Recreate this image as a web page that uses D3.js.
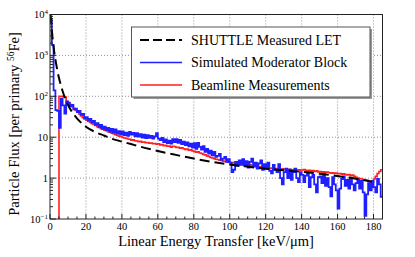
<!DOCTYPE html>
<html>
<head>
<meta charset="utf-8">
<script src="https://cdn.jsdelivr.net/npm/d3@7"></script>
<style>
body { margin: 0; background: #fff; }
text { font-family: "Liberation Serif", "Times New Roman", serif; }
</style>
</head>
<body>
<svg id="chart" width="415" height="257"></svg>
<script>
// SHUTTLE measured LET (dashed black), smooth curve
shuttleLET  = [0.3, 0.6, 1, 1.5, 2, 3, 4, 5, 6, 7, 8, 10, 12, 15, 20, 25, 30, 35, 40, 45, 50, 60, 70, 80, 90, 100, 110, 120, 130, 140, 150, 160, 170, 179];
shuttleFlux = [10000, 7000, 4300, 2500, 1600, 800, 450, 280, 190, 135, 100, 62, 43, 29, 18, 13.5, 11, 9, 7.8, 6.8, 5.9, 4.6, 3.7, 3.0, 2.5, 2.15, 1.9, 1.7, 1.55, 1.42, 1.28, 1.12, 0.97, 0.82];

// Simulated moderator block, 1 keV/um bins starting at 0
blueStart = 0;
blueFlux = [7500, 1800, 140, 46, 44, 17, 88, 60, 38, 75,
  70, 58, 62, 48, 50, 41, 44, 35, 37, 29,
  31, 26, 28, 23, 25, 20, 22, 17.5, 20, 16,
  18, 15, 17, 13.8, 16, 13, 15.5, 12.3, 14, 11.8,
  13.8, 11.2, 13, 10.8, 13.5, 11.5, 12.8, 10.5, 12.5, 10.3,
  11.8, 9.8, 11.5, 9.5, 11.2, 9.6, 10.8, 9.2, 10.5, 12.5,
  9.2, 8.5, 9.6, 7.6, 8.8, 7.2, 8.2, 7, 8.9, 7.6,
  9, 7.3, 8.6, 6.8, 7.8, 6.4, 7.5, 6, 7, 5.6,
  7.2, 5.2, 7.3, 5.8, 5.0, 6.0, 4.4, 5.2, 4.0, 4.7,
  3.6, 4.4, 3.3, 3.5, 3.9, 2.8, 3.0, 3.3, 2.5, 2.9,
  2.4, 1.4, 1.6, 2.5, 2.0, 2.7, 2.1, 2.9, 2.0, 2.6,
  1.8, 2.5, 3.0, 1.9, 2.4, 1.7, 2.3, 2.7, 1.6, 2.2,
  1.7, 2.4, 1.5, 1.3, 2.1, 1.6, 1.4, 2.2, 1.0, 0.7,
  1.4, 1.7, 1.0, 1.6, 0.9, 1.4, 1.7, 1.0, 0.8, 1.4,
  1.2, 0.8, 1.15, 1.3, 0.6, 1.05, 1.2, 0.7, 0.45, 1.05,
  1.1, 0.75, 1.25, 0.65, 1.0, 0.6, 0.36, 1.05, 0.7, 0.5,
  0.18, 0.55, 0.95, 1.1, 0.65, 0.9, 0.55, 1.0, 0.7, 0.5,
  0.75, 0.9, 0.55, 0.85, 0.45, 0.12, 0.4, 0.75, 0.5, 0.85,
  0.6, 0.45, 0.95, 0.7, 0.35];

// Beamline measurements, 1 keV/um bins starting at 5
redStart = 5;
redFlux = [100, 100, 98, 96, 74,
  69, 63, 56, 50, 45, 41, 37, 33, 30, 28,
  26, 24.5, 23, 21.5, 20.5, 19.5, 18, 17.5, 16.2, 15.8,
  14.8, 14.5, 13.6, 13.2, 12.5, 12.1, 11.5, 11.2, 10.6, 10.5,
  10, 9.6, 9.4, 9, 8.9, 8.5, 8.6, 8.2, 8.1, 7.8,
  7.9, 7.5, 7.6, 7.3, 7.4, 7.1, 7.2, 6.9, 7.0, 6.7,
  6.9, 6.5, 6.6, 6.2, 6.3, 6.0, 6.1, 5.7, 6.0, 5.9,
  5.6, 5.7, 5.4, 5.5, 5.2, 5.0, 5.1, 4.8, 4.9, 4.6,
  4.5, 4.3, 4.4, 4.1, 4.0, 3.8, 3.7, 3.5, 3.4, 3.2,
  3.1, 3.0, 2.9, 2.85, 2.75, 2.7, 2.6, 2.55, 2.5, 2.45,
  2.4, 2.35, 2.4, 2.3, 2.25, 2.3, 2.2, 2.15, 2.2, 2.1,
  2.05, 2.1, 2.0, 1.95, 2.0, 1.9, 1.85, 1.9, 1.8, 1.85,
  1.75, 1.8, 1.72, 1.75, 1.7, 1.72, 1.68, 1.7, 1.65, 1.68,
  1.62, 1.65, 1.6, 1.63, 1.58, 1.6, 1.62, 1.58, 1.6, 1.55,
  1.58, 1.62, 1.55, 1.5, 1.55, 1.48, 1.52, 1.45, 1.5, 1.42,
  1.45, 1.4, 1.42, 1.38, 1.4, 1.35, 1.32, 1.35, 1.3, 1.32,
  1.28, 1.3, 1.25, 1.28, 1.22, 1.2, 1.22, 1.15, 1.18, 1.1,
  1.05, 1.0, 0.98, 0.95, 0.92, 0.9, 0.88, 0.85, 0.75, 0.8,
  0.95, 1.1, 1.3, 1.45, 1.6];

xTicks = [0, 20, 40, 60, 80, 100, 120, 140, 160, 180];
yTicks = [0.1, 1, 10, 100, 1000, 10000];
yLabels = [["10", "\u22121"], ["1", ""], ["10", ""], ["10", "2"], ["10", "3"], ["10", "4"]];

legendItems = [
  {label: "SHUTTLE Measured LET", color: "#000", dash: "9,4", width: 2},
  {label: "Simulated Moderator Block", color: "#1f1fff", dash: null, width: 1.5},
  {label: "Beamline Measurements", color: "#ff1f1f", dash: null, width: 1.5}
];

svg = d3.select("#chart");
left = 50; right = 382.5; top_ = 14.5; bottom = 219;

x = d3.scaleLinear().domain([0, 185]).range([left, right]);
y = d3.scaleLog().domain([0.1, 10000]).range([bottom, top_]);

// grid
grid = svg.append("g").attr("stroke", "#777").attr("stroke-width", 0.8).attr("stroke-dasharray", "1,2");
grid.selectAll("line.gx").data(xTicks.filter(d => d > 0)).enter().append("line")
  .attr("x1", d => x(d)).attr("x2", d => x(d)).attr("y1", top_).attr("y2", bottom);
grid.selectAll("line.gy").data(yTicks.filter(d => d > 0.1 && d < 10000)).enter().append("line")
  .attr("x1", left).attr("x2", right).attr("y1", d => y(d)).attr("y2", d => y(d));

svg.append("clipPath").attr("id", "clip").append("rect")
  .attr("x", left).attr("y", top_).attr("width", right - left).attr("height", bottom - top_);
plot = svg.append("g").attr("clip-path", "url(#clip)");

function stepPoints(start, vals) {
  pts = vals.map((v, i) => [start + i, v]);
  pts.push([start + vals.length, vals[vals.length - 1]]);
  return pts;
}

stepLine = d3.line().x(d => x(d[0])).y(d => y(d[1])).curve(d3.curveStepAfter);

// red beamline with rising edge from bottom
redPts = [[redStart, 0.1]].concat(stepPoints(redStart, redFlux));
plot.append("path").attr("d", stepLine(redPts))
  .attr("fill", "none").attr("stroke", "#ff1f1f").attr("stroke-width", 1.6);

plot.append("path").attr("d", stepLine(stepPoints(blueStart, blueFlux)))
  .attr("fill", "none").attr("stroke", "#1f1fff").attr("stroke-width", 1.8);

plot.append("path")
  .attr("d", d3.line().x(d => x(d)).y((d, i) => y(shuttleFlux[i])).curve(d3.curveMonotoneX)(shuttleLET))
  .attr("fill", "none").attr("stroke", "#000").attr("stroke-width", 2).attr("stroke-dasharray", "10,5");

// frame
svg.append("rect").attr("x", left).attr("y", top_).attr("width", right - left).attr("height", bottom - top_)
  .attr("fill", "none").attr("stroke", "#222").attr("stroke-width", 1);

// x ticks (inside)
axisG = svg.append("g").attr("stroke", "#222").attr("stroke-width", 1);
axisG.selectAll("line.xt").data(d3.range(0, 186, 5)).enter().append("line")
  .attr("x1", d => x(d)).attr("x2", d => x(d))
  .attr("y1", bottom).attr("y2", d => bottom - (d % 20 === 0 ? 5 : 2.5));
// y ticks (inside)
yMinor = [];
[0.1, 1, 10, 100, 1000].forEach(dec => { for (k = 1; k < 10; k++) yMinor.push(dec * k); });
yMinor.push(10000);
axisG.selectAll("line.yt").data(yMinor).enter().append("line")
  .attr("x1", left).attr("x2", d => left + (yTicks.includes(d) ? 6 : 3))
  .attr("y1", d => y(d)).attr("y2", d => y(d));

svg.selectAll("text.xl").data(xTicks).enter().append("text")
  .attr("x", d => x(d)).attr("y", 230).attr("text-anchor", "middle").attr("font-size", 10.5)
  .text(d => d);

yl = svg.selectAll("text.yl").data(yTicks).enter().append("text")
  .attr("x", 48).attr("y", d => y(d) + 3.5).attr("text-anchor", "end").attr("font-size", 10.5);
yl.append("tspan").text((d, i) => yLabels[i][0]);
yl.append("tspan").attr("font-size", 7).attr("dy", -4).text((d, i) => yLabels[i][1]);

// axis titles
svg.append("text").attr("x", 216).attr("y", 246).attr("text-anchor", "middle").attr("font-size", 14.5)
  .text("Linear Energy Transfer [keV/\u03bcm]");
yt = svg.append("text").attr("transform", "translate(19,124) rotate(-90)").attr("text-anchor", "middle")
  .attr("font-size", 14.5);
yt.append("tspan").text("Particle Flux [per primary ");
yt.append("tspan").attr("font-size", 9.5).attr("dy", -5).text("56");
yt.append("tspan").attr("dy", 5).text("Fe]");

// legend
lg = svg.append("g");
lg.append("rect").attr("x", 133.5).attr("y", 29).attr("width", 238.5).attr("height", 70).attr("fill", "#999");
lg.append("rect").attr("x", 131.5).attr("y", 27).attr("width", 238.5).attr("height", 70)
  .attr("fill", "#fff").attr("stroke", "#555").attr("stroke-width", 1);
items = lg.selectAll("g.item").data(legendItems).enter().append("g")
  .attr("transform", (d, i) => `translate(0,${40 + i * 22.5})`);
items.append("line").attr("x1", 140).attr("x2", 182).attr("y1", 0).attr("y2", 0)
  .attr("stroke", d => d.color).attr("stroke-width", d => d.width).attr("stroke-dasharray", d => d.dash);
items.append("text").attr("x", 191).attr("y", 4.5).attr("font-size", 14).text(d => d.label);
</script>
</body>
</html>
